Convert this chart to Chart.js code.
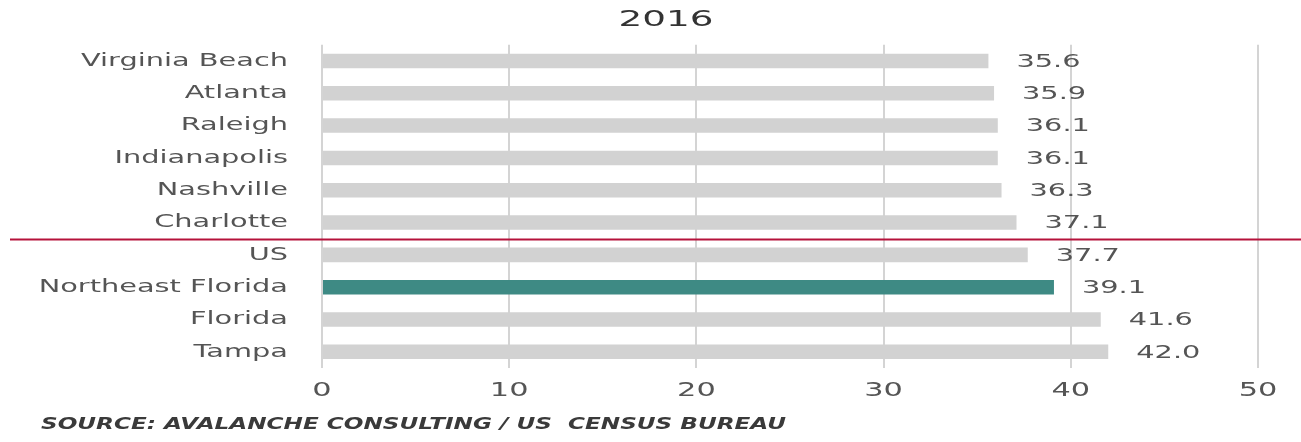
<!DOCTYPE html>
<html>
<head>
<meta charset="utf-8">
<script src="https://cdn.jsdelivr.net/npm/chart.js@4"></script>
<style>
  html, body { margin: 0; padding: 0; background: #fff; }
  canvas { display: block; }
</style>
</head>
<body>
<canvas id="c" width="1301" height="442"></canvas>
<script>
const categories = ['Virginia Beach', 'Atlanta', 'Raleigh', 'Indianapolis', 'Nashville', 'Charlotte', 'US', 'Northeast Florida', 'Florida', 'Tampa'];
const values = [35.6, 35.9, 36.1, 36.1, 36.3, 37.1, 37.7, 39.1, 41.6, 42.0];
const highlightCategory = 'Northeast Florida';
const chartTitle = '2016';
const sourceText = 'SOURCE: AVALANCHE CONSULTING / US  CENSUS BUREAU';
const xMin = 0, xMax = 50, xStep = 10;
const dividerAfter = 'Charlotte';

const FONT = '"DejaVu Sans", sans-serif';
const GRAY_BAR = '#d2d2d2';
const TEAL = '#3e8a84';
const TEXT = '#555555';
const STRETCH = 1.6;

const canvas = document.getElementById('c');
const c2d = canvas.getContext('2d');
const origFill = c2d.fillText;
c2d.textStretch = STRETCH;
c2d.fillText = function (t, x, y) {
  const s = this.textStretch || 1;
  this.save();
  this.translate(x, y);
  this.scale(s, 1);
  origFill.call(this, t, 0, 0);
  this.restore();
};

function fitText(ctx, text, x, y, targetWidth) {
  const w = ctx.measureText(text).width;
  const prev = ctx.textStretch;
  ctx.textStretch = targetWidth / w;
  ctx.fillText(text, x, y);
  ctx.textStretch = prev;
}

const overlayPlugin = {
  id: 'overlay',
  afterDatasetsDraw(chart) {
    const ctx = chart.ctx;
    const meta = chart.getDatasetMeta(0);
    ctx.save();
    ctx.fillStyle = TEXT;
    ctx.font = '18px ' + FONT;
    ctx.textBaseline = 'middle';
    ctx.textAlign = 'left';
    meta.data.forEach((bar, i) => {
      ctx.fillText(values[i].toFixed(1), bar.x + 28, bar.y + 1);
    });
    ctx.restore();
  },
  afterDraw(chart) {
    const ctx = chart.ctx;
    const y = chart.scales.y;
    const idx = categories.indexOf(dividerAfter);
    const ly = Math.round((y.getPixelForValue(idx) + y.getPixelForValue(idx + 1)) / 2) + 0.5;
    ctx.save();
    ctx.strokeStyle = '#b5123b';
    ctx.lineWidth = 2;
    ctx.beginPath();
    ctx.moveTo(10, ly);
    ctx.lineTo(1301, ly);
    ctx.stroke();

    ctx.fillStyle = '#333333';
    ctx.textBaseline = 'middle';
    ctx.textAlign = 'center';
    ctx.font = '21px ' + FONT;
    fitText(ctx, chartTitle, 666, 21, 95);

    ctx.fillStyle = '#3a3a3a';
    ctx.textAlign = 'left';
    ctx.font = 'italic bold 16px ' + FONT;
    fitText(ctx, sourceText, 41, 425, 745);
    ctx.restore();
  }
};

new Chart(c2d, {
  type: 'bar',
  data: {
    labels: categories,
    datasets: [{
      data: values,
      backgroundColor: categories.map(c => c === highlightCategory ? TEAL : GRAY_BAR),
      barPercentage: 0.45,
      categoryPercentage: 1.0,
      borderWidth: 0
    }]
  },
  options: {
    indexAxis: 'y',
    responsive: false,
    animation: false,
    devicePixelRatio: 1,
    layout: { padding: { top: 44, right: 43, left: 0, bottom: 0 } },
    plugins: {
      legend: { display: false },
      tooltip: { enabled: false },
      title: { display: false }
    },
    scales: {
      x: {
        min: xMin,
        max: xMax,
        ticks: {
          stepSize: xStep,
          color: TEXT,
          font: { family: FONT, size: 19 },
          padding: 12
        },
        grid: { color: '#d4d4d4', lineWidth: 2, drawTicks: false },
        border: { display: false },
        afterFit(s) { s.height = 74; }
      },
      y: {
        ticks: {
          color: TEXT,
          font: { family: FONT, size: 18 },
          padding: 34,
          autoSkip: false
        },
        grid: { display: false, drawTicks: false },
        border: { display: false },
        afterFit(s) { s.width = 322; }
      }
    }
  },
  plugins: [overlayPlugin]
});
</script>
</body>
</html>
